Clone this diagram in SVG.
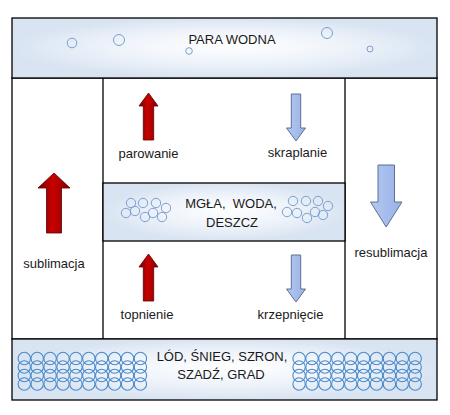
<svg xmlns="http://www.w3.org/2000/svg" width="450" height="415" viewBox="0 0 450 415">
<defs>
<radialGradient id="bg" cx="0.5" cy="0.5" r="0.5" fx="0.52" fy="0.45">
<stop offset="0" stop-color="#ffffff"/>
<stop offset="0.55" stop-color="#eef3fa"/>
<stop offset="1" stop-color="#d9e4f2"/>
</radialGradient>
<linearGradient id="red" x1="0" y1="0" x2="1" y2="0">
<stop offset="0" stop-color="#7a0000"/>
<stop offset="0.45" stop-color="#c80000"/>
<stop offset="1" stop-color="#8a0000"/>
</linearGradient>
<linearGradient id="blue" x1="0" y1="0" x2="1" y2="0">
<stop offset="0" stop-color="#b4c8f2"/>
<stop offset="1" stop-color="#98b2e6"/>
</linearGradient>
<path id="upS" d="M 0,0 L 9.5,13 L 5.2,13 L 5.2,47 L -5.2,47 L -5.2,13 L -9.5,13 Z"/>
<path id="downS" d="M -4.7,0 L 4.7,0 L 4.7,34 L 9.5,34 L 0,47 L -9.5,34 L -4.7,34 Z"/>
</defs>
<style>
.box{fill:url(#bg);stroke:#000;stroke-width:1.3}
.ln{fill:none;stroke:#000;stroke-width:1.3}
.t{font-family:"Liberation Sans",Arial,sans-serif;font-size:13px;fill:#1a1a1a;text-anchor:middle}
.ra{fill:url(#red);stroke:#5c0000;stroke-width:0.8}
.ba{fill:url(#blue);stroke:#5f6f96;stroke-width:1}
.b{fill:none;stroke:#7b9fd0;stroke-width:1}
.g{fill:none;stroke:#4b8ac8;stroke-width:1.1}
</style>
<g id="frame">
<rect class="ln" x="12" y="78" width="425" height="261"/>
<line class="ln" x1="103" y1="78" x2="103" y2="339"/>
<line class="ln" x1="345" y1="78" x2="345" y2="339"/>
</g>
<g id="para-wodna">
<rect class="box" x="12" y="18" width="425" height="60"/>
<circle class="b" cx="72" cy="43" r="4.8"/>
<circle class="b" cx="119" cy="40" r="5.5"/>
<circle class="b" cx="189" cy="51" r="3.3"/>
<circle class="b" cx="327" cy="33" r="5.5"/>
<circle class="b" cx="370" cy="49" r="3"/>
<text class="t" x="232" y="44">PARA WODNA</text>
</g>
<g id="mgla">
<rect class="box" x="103" y="183" width="242" height="58"/>
<g class="b">
<circle cx="131" cy="203" r="4.7"/><circle cx="143" cy="203" r="4.7"/><circle cx="156" cy="203" r="4.7"/><circle cx="166" cy="208" r="4.7"/>
<circle cx="126" cy="213" r="4.7"/><circle cx="135" cy="211" r="4.7"/><circle cx="145" cy="217" r="4.7"/><circle cx="153" cy="213" r="4.7"/><circle cx="162" cy="217" r="4.7"/>
<circle cx="293" cy="201" r="4.7"/><circle cx="306" cy="201" r="4.7"/><circle cx="318" cy="201" r="4.7"/><circle cx="328" cy="206" r="4.7"/>
<circle cx="287" cy="212" r="4.7"/><circle cx="297" cy="213" r="4.7"/><circle cx="307" cy="218" r="4.7"/><circle cx="315" cy="212" r="4.7"/><circle cx="323" cy="215" r="4.7"/>
</g>
<text class="t" x="231" y="208" xml:space="preserve">MGŁA,  WODA,</text>
<text class="t" x="232" y="227">DESZCZ</text>
</g>
<g id="lod">
<rect class="box" x="12" y="339" width="425" height="61"/>
<g id="grid-left" class="g">
<g id="row">
<circle cx="24.3" cy="358.5" r="6.2"/><circle cx="37.2" cy="358.5" r="6.2"/><circle cx="50.1" cy="358.5" r="6.2"/><circle cx="63" cy="358.5" r="6.2"/><circle cx="75.9" cy="358.5" r="6.2"/><circle cx="88.8" cy="358.5" r="6.2"/><circle cx="101.7" cy="358.5" r="6.2"/><circle cx="114.6" cy="358.5" r="6.2"/><circle cx="127.5" cy="358.5" r="6.2"/><circle cx="140.4" cy="358.5" r="6.2"/>
</g>
<use href="#row" y="8.5"/>
<use href="#row" y="17"/>
<use href="#row" y="25.5"/>
</g>
<use href="#grid-left" x="274.8"/>
<text class="t" x="222" y="361">LÓD, ŚNIEG, SZRON,</text>
<text class="t" x="221" y="379">SZADŹ, GRAD</text>
</g>
<g id="sublimacja">
<path class="ra" d="M 54,173 L 70,188 L 61.5,188 L 61.5,233 L 46.5,233 L 46.5,188 L 38,188 Z"/>
<text class="t" x="54" y="268">sublimacja</text>
</g>
<g id="resublimacja">
<path class="ba" d="M 378,165 L 394.5,165 L 394.5,202 L 402,202 L 386.2,227 L 370.5,202 L 378,202 Z"/>
<text class="t" x="391" y="257">resublimacja</text>
</g>
<g id="parowanie">
<use href="#upS" class="ra" x="148.5" y="93"/>
<text class="t" x="148.5" y="158">parowanie</text>
</g>
<g id="skraplanie">
<use href="#downS" class="ba" x="296" y="94"/>
<text class="t" x="297.5" y="157">skraplanie</text>
</g>
<g id="topnienie">
<use href="#upS" class="ra" x="148.5" y="254"/>
<text class="t" x="147" y="319">topnienie</text>
</g>
<g id="krzepniecie">
<use href="#downS" class="ba" x="296" y="255"/>
<text class="t" x="290.5" y="319">krzepnięcie</text>
</g>
</svg>
